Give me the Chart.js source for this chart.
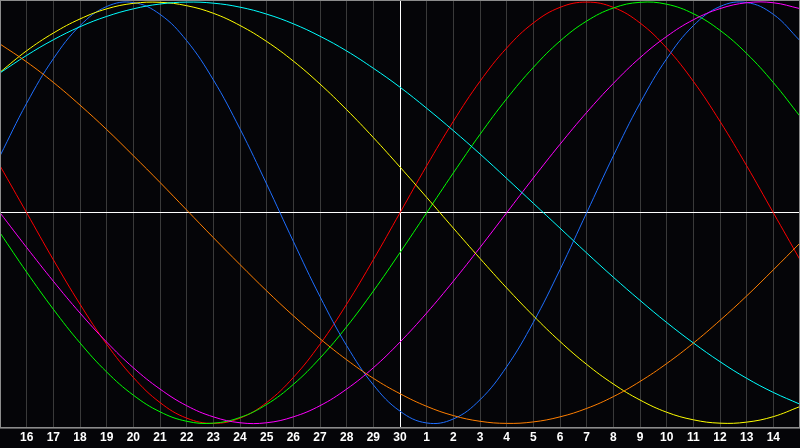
<!DOCTYPE html>
<html>
<head>
<meta charset="utf-8">
<script src="https://cdn.jsdelivr.net/npm/chart.js@4"></script>
<style>
  html, body { margin: 0; padding: 0; background: #050508; }
  #wrap { width: 800px; height: 448px; }
</style>
</head>
<body>
<div id="wrap"><canvas id="bioChart"></canvas></div>
<script>
// days shown along the bottom (15th of last month .. 15th of this month)
const days = ["15","16","17","18","19","20","21","22","23","24","25","26","27","28","29","30",
              "1","2","3","4","5","6","7","8","9","10","11","12","13","14","15"];
const todayIndex = 15;

// cycle values, one per day
const red = [0.223,0,-0.223,-0.434,-0.624,-0.782,-0.901,-0.975,-1,-0.975,-0.901,-0.782,-0.624,-0.434,-0.223,0,
             0.223,0.434,0.624,0.782,0.901,0.975,1,0.975,0.901,0.782,0.624,0.434,0.223,0,-0.223];
const green = [-0.095,-0.282,-0.458,-0.618,-0.756,-0.866,-0.945,-0.990,-0.999,-0.972,-0.910,-0.815,-0.690,-0.541,-0.372,-0.189,
               0,0.189,0.372,0.541,0.690,0.815,0.910,0.972,0.999,0.990,0.945,0.866,0.756,0.618,0.458];
const blue = [0.270,0.520,0.731,0.888,0.979,0.998,0.942,0.817,0.631,0.398,0.136,-0.136,-0.398,-0.631,-0.817,-0.942,
              -0.998,-0.979,-0.888,-0.731,-0.520,-0.270,0,0.270,0.520,0.731,0.888,0.979,0.998,0.942,0.817];
const magenta = [0,-0.165,-0.325,-0.476,-0.614,-0.736,-0.837,-0.916,-0.969,-0.997,-0.997,-0.969,-0.916,-0.837,-0.736,-0.614,
                 -0.476,-0.325,-0.165,0,0.165,0.325,0.476,0.614,0.736,0.837,0.916,0.969,0.997,0.997,0.969];
const yellow = [0.667,0.769,0.853,0.920,0.968,0.994,0.999,0.983,0.947,0.889,0.813,0.720,0.611,0.489,0.357,0.217,
                0.073,-0.073,-0.217,-0.357,-0.489,-0.611,-0.720,-0.813,-0.889,-0.947,-0.983,-0.999,-0.994,-0.968,-0.920];
const cyan = [0.664,0.747,0.821,0.883,0.932,0.968,0.991,1.000,0.995,0.976,0.943,0.897,0.838,0.768,0.686,0.596,
              0.496,0.390,0.279,0.163,0.045,-0.073,-0.191,-0.306,-0.416,-0.521,-0.618,-0.707,-0.786,-0.853,-0.909];
const orange = [0.801,0.716,0.619,0.511,0.395,0.271,0.144,0.013,-0.118,-0.246,-0.371,-0.489,-0.598,-0.698,-0.786,-0.859,
                -0.919,-0.963,-0.990,-1.000,-0.993,-0.969,-0.929,-0.873,-0.801,-0.716,-0.619,-0.511,-0.395,-0.271,-0.144];

function line(values, color) {
    return {
        data: values,
        borderColor: color,
        borderWidth: 1,
        pointRadius: 0,
        tension: 0.4,
        fill: false
    };
}

// gray frame round the plot
const frame = {
    id: "frame",
    afterDraw(chart) {
        const a = chart.chartArea;
        const ctx = chart.ctx;
        ctx.save();
        ctx.strokeStyle = "#8c8c8c";
        ctx.lineWidth = 1;
        ctx.strokeRect(a.left + 0.5, a.top + 0.5, a.right - a.left - 1, a.bottom - a.top);
        ctx.restore();
    }
};

const bioChart = new Chart(document.getElementById("bioChart"), {
    type: "line",
    data: {
        labels: days,
        datasets: [
            line(orange, "#ff7f00"),
            line(cyan, "#00ffff"),
            line(yellow, "#ffff00"),
            line(magenta, "#ff00ff"),
            line(blue, "#1f6fff"),
            line(green, "#00ff00"),
            line(red, "#ff0000")
        ]
    },
    options: {
        responsive: true,
        maintainAspectRatio: false,
        animation: false,
        layout: { padding: 0 },
        plugins: {
            legend: { display: false },
            tooltip: { enabled: false }
        },
        scales: {
            x: {
                offset: false,
                afterFit: s => { s.paddingLeft = 0; s.paddingRight = 0; },
                grid: {
                    drawTicks: false,
                    lineWidth: 1,
                    color: ctx => ctx.index === todayIndex ? "#ffffff" : "#3a3a3a"
                },
                border: { color: "#8c8c8c" },
                ticks: {
                    autoSkip: false,
                    maxRotation: 0,
                    padding: 3,
                    color: "#ffffff",
                    font: { family: "Liberation Sans", size: 12, weight: "bold" },
                    callback: (v, i) => (i === 0 || i === days.length - 1) ? "" : days[i]
                }
            },
            y: {
                min: -1.02,
                max: 1.01,
                afterBuildTicks: s => { s.ticks = [{ value: 0 }]; },
                afterFit: s => { s.width = 0; },
                grid: { drawTicks: false, color: "#ffffff", lineWidth: 1 },
                border: { display: false },
                ticks: { display: false }
            }
        }
    },
    plugins: [frame]
});
</script>
</body>
</html>
